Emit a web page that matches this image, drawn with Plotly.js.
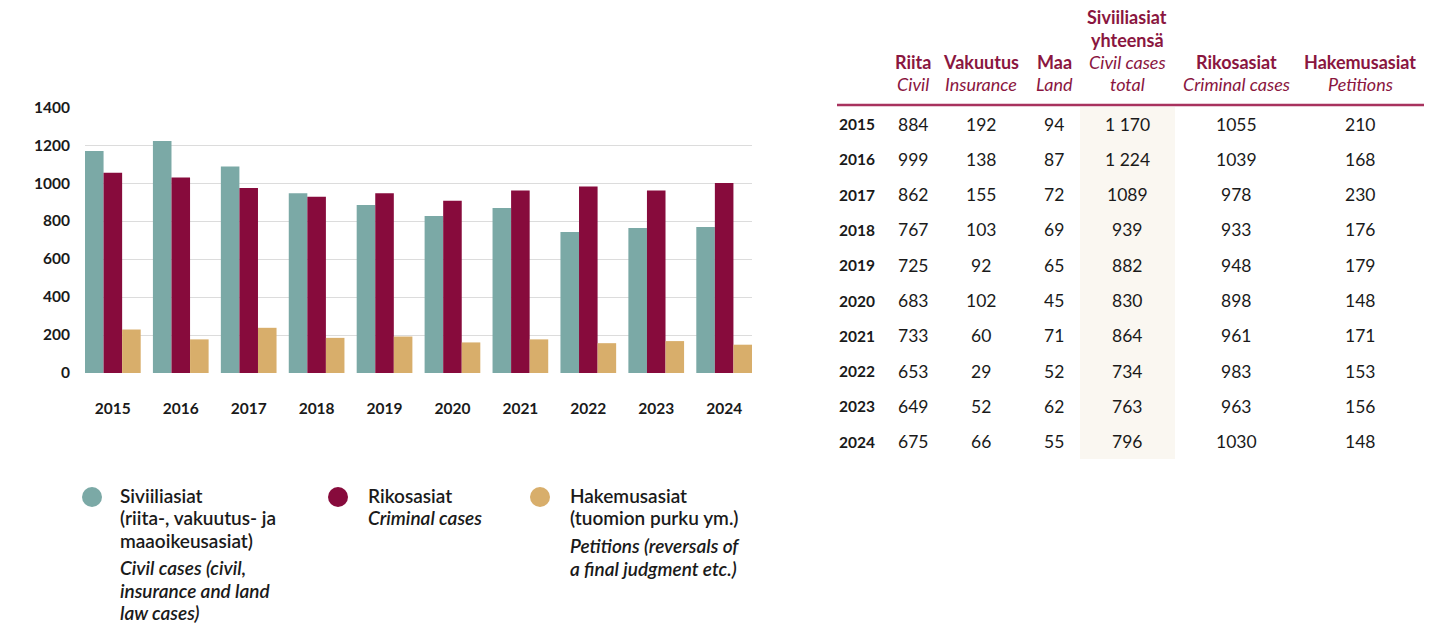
<!DOCTYPE html>
<html><head><meta charset="utf-8">
<script src="https://cdn.plot.ly/plotly-3.0.1.min.js"></script>
<style>html,body{margin:0;padding:0;background:#fff}#chart{width:1452px;height:626px}</style>
</head><body><div id="chart"></div>
<script>
// ---- data ----
const years = ['2015','2016','2017','2018','2019','2020','2021','2022','2023','2024'];
// bar heights as drawn in the chart
const civilBars    = [1169,1222,1087,947,884,827,869,743,764,769];
const criminalBars = [1054,1029,974,928,947,907,961,982,961,1001];
const petitionBars = [229,177,238,185,192,161,177,157,168,149];
const yTicks = [0,200,400,600,800,1000,1200,1400];
// table values
const tRiita     = ['884','999','862','767','725','683','733','653','649','675'];
const tVakuutus  = ['192','138','155','103','92','102','60','29','52','66'];
const tMaa       = ['94','87','72','69','65','45','71','52','62','55'];
const tTotal     = ['1 170','1 224','1089','939','882','830','864','734','763','796'];
const tRikos     = ['1055','1039','978','933','948','898','961','983','963','1030'];
const tHakemus   = ['210','168','230','176','179','148','171','153','156','148'];
const seriesNames = ['Siviiliasiat','Rikosasiat','Hakemusasiat'];

const W = 1452, H = 626;
const px = x => x / W, py = y => 1 - y / H;
const FONT = 'Lato, "Open Sans", sans-serif';
const C_TEAL = '#7ba9a6', C_MAROON = '#870b3c', C_TAN = '#d8ae6b', C_HEAD = '#8a1640', C_TXT = '#1a1a1a';

const traces = [
  {type:'bar', name:seriesNames[0], x:years, y:civilBars, marker:{color:C_TEAL}},
  {type:'bar', name:seriesNames[1], x:years, y:criminalBars, marker:{color:C_MAROON}},
  {type:'bar', name:seriesNames[2], x:years, y:petitionBars, marker:{color:C_TAN}}
];

const ann = [];
const shapes = [];
// table background for total column
shapes.push({type:'rect', xref:'paper', yref:'paper', x0:px(1080), x1:px(1175), y0:py(459), y1:py(107), fillcolor:'#faf7f1', line:{width:0}, layer:'below'});
// header rule
shapes.push({type:'line', xref:'paper', yref:'paper', x0:px(837), x1:px(1424), y0:py(105), y1:py(105), line:{color:'#a8325e', width:2.5}});

function txt(x, y, text, font, opts) {
  ann.push(Object.assign({xref:'paper', yref:'paper', x:px(x), y:py(y), text:text, showarrow:false,
    xanchor:'center', yanchor:'middle', font:Object.assign({family:FONT, size:15, color:C_TXT}, font||{})}, opts||{}));
}
// table header
const colX = [913, 981, 1054, 1127, 1236, 1360];
const headFont = {size:18, color:C_HEAD};
txt(1127, 17, '<b>Siviiliasiat</b>', headFont);
txt(1127, 40, '<b>yhteensä</b>', headFont);
const h1 = ['<b>Riita</b>','<b>Vakuutus</b>','<b>Maa</b>','<i>Civil cases</i>','<b>Rikosasiat</b>','<b>Hakemusasiat</b>'];
const h2 = ['<i>Civil</i>','<i>Insurance</i>','<i>Land</i>','<i>total</i>','<i>Criminal cases</i>','<i>Petitions</i>'];
h1.forEach((t,i)=>txt(colX[i], 62, t, headFont));
h2.forEach((t,i)=>txt(colX[i], 84, t, headFont));
// table body
const cols = [tRiita, tVakuutus, tMaa, tTotal, tRikos, tHakemus];
years.forEach((yr, r) => {
  const y = 124 + r * 35.3;
  txt(837, y, '<b>' + yr + '</b>', {size:15.5}, {xanchor:'left'});
  cols.forEach((col, c) => txt(colX[c], y, col[r], {size:17.5}));
});

// legend
const leg = [
  {cx:92, color:C_TEAL, tx:118, lines:[[495,'Siviiliasiat'],[517,'(riita-, vakuutus- ja'],[540,'maaoikeusasiat)'],[567,'<i>Civil cases (civil,</i>'],[590,'<i>insurance and land</i>'],[612,'<i>law cases)</i>']]},
  {cx:338, color:C_MAROON, tx:366, lines:[[495,'Rikosasiat'],[517,'<i>Criminal cases</i>']]},
  {cx:540, color:C_TAN, tx:568, lines:[[495,'Hakemusasiat'],[517,'(tuomion purku ym.)'],[545,'<i>Petitions (reversals of</i>'],[568,'<i>a final judgment etc.)</i>']]}
];
leg.forEach(l => {
  shapes.push({type:'circle', xref:'paper', yref:'paper', x0:px(l.cx-10), x1:px(l.cx+10), y0:py(507), y1:py(487), fillcolor:l.color, line:{width:0}});
  l.lines.forEach(([y,t]) => txt(l.tx, y, t, {size:19, weight:600}, {xanchor:'left'}));
});

const layout = {
  width:W, height:H, margin:{l:0,r:0,t:0,b:0}, paper_bgcolor:'#fff', plot_bgcolor:'#fff',
  showlegend:false, barmode:'group', bargap:0.18, bargroupgap:0,
  font:{family:FONT, size:15, color:C_TXT},
  xaxis:{domain:[px(85), px(752)], range:[-0.41, 9.41], type:'category', showgrid:false, zeroline:false, showline:false,
    ticks:'', tickfont:{family:FONT, size:15.5, color:C_TXT, weight:'bold'}, ticklabelstandoff:24},
  yaxis:{domain:[py(373), py(107)], range:[0, 1400.5], tickvals:yTicks, ticktext:yTicks.map(String), showgrid:true, gridcolor:'#dcdcdc', gridwidth:1,
    zeroline:false, showline:false, ticks:'', tickfont:{family:FONT, size:15.5, color:C_TXT, weight:'bold'}, ticklabelstandoff:14},
  shapes:shapes, annotations:ann
};
Plotly.newPlot('chart', traces, layout, {displayModeBar:false, staticPlot:true});
</script></body></html>
